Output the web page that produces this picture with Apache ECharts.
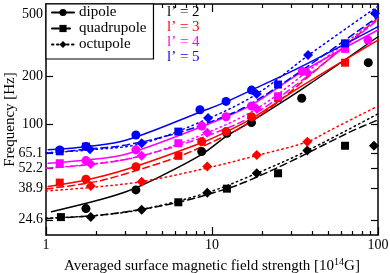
<!DOCTYPE html>
<html><head><meta charset="utf-8">
<script src="https://cdn.jsdelivr.net/npm/echarts@6/dist/echarts.min.js"></script>
<style>html,body{margin:0;padding:0;background:#fff}#c{width:390px;height:273px}</style>
</head><body><div id="c"></div>
<script>
// ---- data: [B (10^14 G), frequency (Hz)] ----
// l' = 2 (black)
const dipLine2 = [[1.08,27.7],[2,32.5],[3.06,37.2],[5,47],[8.67,64],[12.3,84],[17.3,104],[35,167],[100,358]];
const dipPts2  = [[1.74,29],[3.48,38.1],[8.67,66.7],[12.3,87.3],[17.3,102],[34.7,145.6],[87.4,245]];
const quadLine2 = [[1,25],[2,26.2],[3.06,27.7],[6.27,31.8],[12.3,38.8],[16.9,44],[30,58],[67.9,89],[100,106]];
const quadPts2  = [[1.23,25.6],[6.27,31.8],[12.3,38.8],[25,48.6],[63.3,72.7]];
const octLine2 = [[1,25.2],[2,26.2],[3.77,28.6],[9.36,36.6],[18.6,48.6],[37.5,67.7],[100,116]];
const octPts2  = [[1.86,25.6],[3.77,28.5],[9.36,36.6],[18.6,48.6],[37.5,67.7],[94.5,72.7]];
// l' = 3 (red)
const dipLine3 = [[1.03,40],[1.74,44],[3.06,51.5],[8.67,76],[12.15,89],[17.3,108],[35,175],[100,341]];
const dipPts3  = [[1.74,44.5],[3.48,53.5],[8.67,77.2],[12.15,89.4],[17.3,111]];
const quadLine3 = [[1,38.6],[2,43],[3.06,48.5],[6.27,62],[12,84],[17.3,104],[25,138],[50,255],[100,470]];
const quadPts3  = [[1.21,42.4],[6.27,62.7],[25,146],[63.3,245]];
const octLine3 = [[1,37.5],[1.86,39.5],[3.77,43],[9.36,52.5],[18.6,63],[37.5,77],[51.3,91],[100,130]];
const octPts3  = [[1.86,40.4],[3.77,43],[9.36,53.6],[18.6,63.6],[37.5,77.2]];
// l' = 4 (magenta)
const dipLine4 = [[1.03,56.3],[1.74,59],[3.06,64.5],[8.67,96],[12.15,111],[17.3,132],[35,215],[100,395]];
const dipPts4  = [[1.74,58.5],[3.48,68.4],[8.67,97],[12.15,111],[17.3,130],[35,215],[87,341]];
const quadLine4 = [[1,52.3],[1.8,55],[3.06,59.7],[6.27,73],[12,93],[17.3,112],[35,190],[100,460]];
const quadPts4  = [[1.21,56.3],[6.27,75.4],[25,150],[63.3,300]];
const octLine4 = [[1,52.5],[1.86,55.5],[3.77,62.7],[9.36,88],[18.6,125],[37.5,215],[100,470]];
const octPts4  = [[1.86,55.7],[3.77,62.7],[9.36,88],[18.6,125],[37.5,212]];
// l' = 5 (blue)
const dipLine5 = [[1.03,68.5],[1.8,72],[3.06,79],[8.67,120],[12.15,138],[17.3,164],[35,233],[100,415]];
const dipPts5  = [[1.21,68.4],[1.74,72],[3.48,85.1],[8.46,123],[12.15,139],[17.3,164]];
const quadLine5 = [[1,65.1],[1.74,69],[3.06,73.6],[6.27,88],[12,112],[17.3,135],[35,220],[100,480]];
const quadPts5  = [[1.21,67],[1.74,71.8],[6.27,89.4],[25,178],[63.3,325]];
const octLine5 = [[1,65.5],[1.86,68.5],[3.77,75],[9.47,108],[18.6,155],[37.9,272],[100,560]];
const octPts5  = [[1.84,69.1],[3.77,75.4],[9.47,109],[18.6,155],[37.9,274],[96,505]];

const yTickValues = [24.6, 38.9, 52.2, 65.1, 100, 200, 500];
const yTickLabels = ['24.6', '38.9', '52.2', '65.1', '100', '200', '500'];
const xMajorTicks = [1, 10, 100];
const xMajorLabels = ['1', '10', '100'];
const xMinorTicks = [2,3,4,5,6,7,8,9,20,30,40,50,60,70,80,90];
const legendNames = ['dipole', 'quadrupole', 'octupole'];
const lLabels = ['l\u2019 = 2', 'l\u2019 = 3', 'l\u2019 = 4', 'l\u2019 = 5'];

const colors = ['#000000', '#ff0000', '#ff00ff', '#0000ff'];
const groups = [
  {dl: dipLine2, dp: dipPts2, ql: quadLine2, qp: quadPts2, ol: octLine2, op: octPts2},
  {dl: dipLine3, dp: dipPts3, ql: quadLine3, qp: quadPts3, ol: octLine3, op: octPts3},
  {dl: dipLine4, dp: dipPts4, ql: quadLine4, qp: quadPts4, ol: octLine4, op: octPts4},
  {dl: dipLine5, dp: dipPts5, ql: quadLine5, qp: quadPts5, ol: octLine5, op: octPts5}
];

const FONT = 'Liberation Serif';
const series = [];
const kinds = [
  {line: 'dl', pts: 'dp', type: 'solid', sym: 'circle', size: 9},
  {line: 'ql', pts: 'qp', type: [7, 4], sym: 'rect', size: 8},
  {line: 'ol', pts: 'op', type: [1.5, 3.5], sym: 'diamond', size: 10}
];
groups.forEach((g, gi) => {
  kinds.forEach((k, ki) => {
    series.push({
      type: 'line',
      name: gi === 0 ? legendNames[ki] : legendNames[ki] + ' ' + lLabels[gi],
      data: g[k.line],
      smooth: 0.35,
      showSymbol: false,
      symbol: k.sym,
      symbolSize: k.size,
      itemStyle: {color: colors[gi]},
      lineStyle: {color: colors[gi], width: 1.5, type: k.type, cap: 'round'},
      z: 2,
      silent: true
    });
    series.push({
      type: 'scatter',
      name: 'pts' + gi + ki,
      data: g[k.pts],
      symbol: k.sym,
      symbolSize: k.size,
      itemStyle: {color: colors[gi], opacity: 1},
      z: 3,
      silent: true
    });
  });
});

const yFmt = v => {
  let best = 0;
  yTickValues.forEach((t, i) => { if (Math.abs(t - v) < Math.abs(yTickValues[best] - v)) best = i; });
  return yTickLabels[best];
};
const xFmt = v => {
  let best = 0;
  xMajorTicks.forEach((t, i) => { if (Math.abs(t - v) < Math.abs(xMajorTicks[best] - v)) best = i; });
  return xMajorLabels[best];
};
const axisLineStyle = {color: '#000', width: 1.5};
const YMIN = 19.7, YMAX = 578;

const option = {
  animation: false,
  backgroundColor: '#fff',
  grid: {left: 46, right: 12, top: 4, bottom: 38, containLabel: false, outerBoundsMode: 'none'},
  xAxis: [
    {type: 'log', logBase: 10, min: 1, max: 100, position: 'bottom',
     axisLine: {show: true, lineStyle: axisLineStyle},
     axisTick: {show: true, inside: true, length: 8, customValues: xMajorTicks, lineStyle: {color: '#000', width: 1.2}},
     axisLabel: {show: true, customValues: xMajorTicks, formatter: xFmt, color: '#000', fontFamily: FONT, fontSize: 14, margin: 3},
     splitLine: {show: false},
     name: 'Averaged surface magnetic field strength [10{sup|14}G]',
     nameLocation: 'middle', nameGap: 19,
     nameTextStyle: {color: '#000', fontFamily: FONT, fontSize: 15,
       rich: {sup: {fontSize: 10, verticalAlign: 'bottom', padding: [0, 0, 9, 0], fontFamily: FONT, color: '#000'}}}
    },
    {type: 'log', logBase: 10, min: 1, max: 100, position: 'bottom',
     axisLine: {show: false},
     axisTick: {show: true, inside: true, length: 4, customValues: xMinorTicks, lineStyle: {color: '#000', width: 1.2}},
     axisLabel: {show: false}, splitLine: {show: false}},
    {type: 'log', logBase: 10, min: 1, max: 100, position: 'top',
     axisLine: {show: true, lineStyle: axisLineStyle},
     axisTick: {show: true, inside: true, length: 8, customValues: xMajorTicks, lineStyle: {color: '#000', width: 1.2}},
     axisLabel: {show: false}, splitLine: {show: false}},
    {type: 'log', logBase: 10, min: 1, max: 100, position: 'top',
     axisLine: {show: false},
     axisTick: {show: true, inside: true, length: 4, customValues: xMinorTicks, lineStyle: {color: '#000', width: 1.2}},
     axisLabel: {show: false}, splitLine: {show: false}}
  ],
  yAxis: [
    {type: 'log', logBase: 10, min: YMIN, max: YMAX, position: 'left',
     axisLine: {show: true, lineStyle: axisLineStyle},
     axisTick: {show: true, inside: true, length: 7, customValues: yTickValues, lineStyle: {color: '#000', width: 1.2}},
     axisLabel: {show: true, customValues: yTickValues, formatter: yFmt, color: '#000', fontFamily: FONT, fontSize: 14, margin: 3},
     splitLine: {show: false},
     name: 'Frequency [Hz]', nameLocation: 'middle', nameGap: 28, nameRotate: 90, nameMoveOverlap: false,
     nameTextStyle: {color: '#000', fontFamily: FONT, fontSize: 15}
    },
    {type: 'log', logBase: 10, min: YMIN, max: YMAX, position: 'right',
     axisLine: {show: true, lineStyle: axisLineStyle},
     axisTick: {show: true, inside: true, length: 7, customValues: yTickValues, lineStyle: {color: '#000', width: 1.2}},
     axisLabel: {show: false}, splitLine: {show: false}}
  ],
  legend: {
    data: legendNames,
    orient: 'vertical', left: 46, top: 4,
    padding: [1, 7, 7, 5], itemGap: 1, itemWidth: 22, itemHeight: 9,
    borderColor: '#000', borderWidth: 1.2, backgroundColor: '#fff',
    textStyle: {color: '#000', fontFamily: FONT, fontSize: 15, lineHeight: 15},
    selectedMode: false, z: 10
  },
  graphic: lLabels.map((t, i) => ({
    type: 'text', left: 167, top: 5 + i * 15,
    style: {text: t, fill: colors[i], font: '15px "' + FONT + '"'}, z: 10
  })),
  series: series
};
const chart = echarts.init(document.getElementById('c'), null, {renderer: 'canvas'});
chart.setOption(option);
</script></body></html>
